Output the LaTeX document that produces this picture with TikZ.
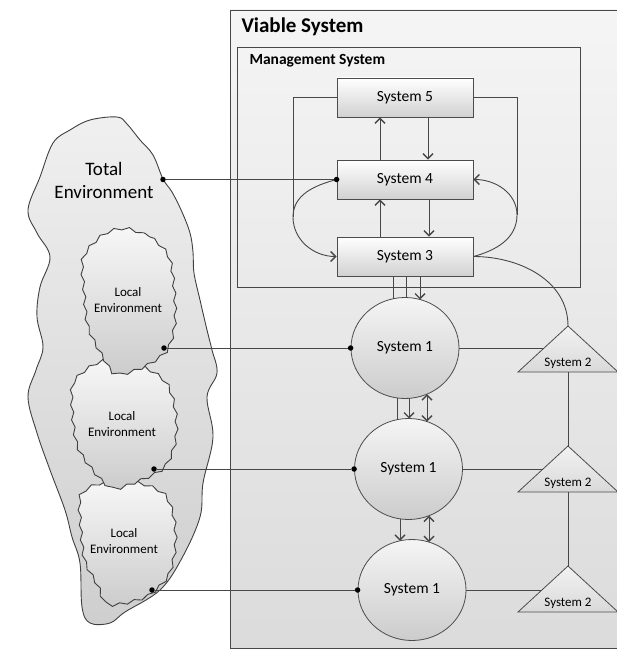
\documentclass[tikz,border=0pt]{standalone}
\usepackage{fontspec}
\setmainfont{Carlito}
\usetikzlibrary{arrows.meta,calc,shapes.geometric,decorations.pathmorphing}
\begin{document}
\begin{tikzpicture}[x=1pt,y=-1pt,
  ln/.style={draw=black!72, line width=0.9pt},
  tip/.tip={Straight Barb[length=5pt,width=10pt,line width=1.4pt]},
  arr/.style={ln, -tip},
  darr/.style={ln, tip-tip},
  dot/.style={circle, fill=black, inner sep=0pt, minimum size=5.5pt},
  sysbox/.style={draw=black!70, line width=0.8pt, top color=white, bottom color=black!18, minimum width=136pt, minimum height=39pt, inner sep=0pt, font=\fontsize{15.5}{18}\selectfont},
  sysone/.style={ellipse, draw=black!70, line width=0.8pt, top color=white!96!black, bottom color=black!20, minimum width=108pt, minimum height=101pt, inner sep=0pt, font=\fontsize{15.5}{18}\selectfont},
  tri/.style={draw=black!70, line width=0.8pt, top color=white!95!black, bottom color=black!15},
  twotxt/.style={font=\fontsize{13}{15}\selectfont, anchor=base},
  env/.style={draw=black!75, line width=0.9pt},
  wavy/.style={decorate, decoration={snake, amplitude=1.4pt, segment length=15pt}},
  envtxt/.style={align=center, font=\fontsize{13}{16}\selectfont},
]
\useasboundingbox (0,0) rectangle (617,650);
\fill[white] (0,0) rectangle (617,650);

% Total environment
\path[env, top color=black!6, bottom color=black!19] plot[smooth cycle, tension=0.6] coordinates {
(117,117) (127,124) (140,140) (153,155) (163,179) (172,192) (182,212) (190,233) (193,252) (194,273) (200,300) (207,330) (212,350) (217,373) (207,397) (213,437) (203,483) (200,517) (182,558) (160,590) (125,612) (110,623) (90,623) (82,607) (80,563) (72,537) (65,510) (50,470) (37,433) (28,397) (36,370) (43,347) (37,317) (40,287) (50,257) (37,233) (28,210) (40,177) (53,143) (70,130) (90,120)};

% Local environments
\path[env, wavy, top color=black!3, bottom color=black!20] plot[smooth cycle] coordinates {
(97,483) (133,482) (160,493) (170,515) (172,545) (165,575) (145,595) (120,603) (103,603) (95,585) (82,560) (78,525) (78,495)};
\path[env, wavy, top color=black!3, bottom color=black!20] plot[smooth cycle] coordinates {
(100,360) (140,366) (163,382) (172,410) (172,440) (160,467) (127,483) (108,487) (90,470) (74,445) (69,410) (71,380)};
\path[env, wavy, top color=black!3, bottom color=black!20] plot[smooth cycle] coordinates {
(123,226) (150,237) (166,255) (171,285) (172,320) (164,348) (140,365) (113,372) (100,355) (85,325) (81,290) (80,255) (100,232)};

\node[align=center, font=\fontsize{19}{23}\selectfont] (tetxt) at (104,180) {Total\\Environment};
\node[envtxt] (l1txt) at (128,300) {Local\\Environment};
\node[envtxt] (l2txt) at (122,424) {Local\\Environment};
\node[envtxt] (l3txt) at (124,541) {Local\\Environment};

% Viable system
\path[top color=black!4, bottom color=black!14] (230,10) rectangle (620,648);
\draw[ln] (620,10) -- (230,10) -- (230,648) -- (620,648);
\node[anchor=base west, font=\bfseries\fontsize{21}{24}\selectfont] (vs) at (238,33) {Viable System};
\draw[ln] (237,47) rectangle (580,287);
\node[anchor=base west, font=\bfseries\fontsize{15.5}{18}\selectfont] (ms) at (246,65) {Management System};

% coordinates for loops
\coordinate (lc) at (293,217);
\coordinate (rc) at (517,215);

% Systems
\node[sysbox] (s5) at (405,97.5) {System 5};
\node[sysbox] (s4) at (405,179.5) {System 4};
\node[sysbox] (s3) at (405,256.5) {System 3};
\node[sysone] (s1a) at (405,348) {System 1};
\node[sysone] (s1b) at (408.5,469) {System 1};
\node[sysone] (s1c) at (412,590) {System 1};

% triangles (System 2)
\coordinate (t1) at (568,326); \coordinate (t1b) at (568,372); \coordinate (t1l) at (544,348);
\coordinate (t2) at (568,446); \coordinate (t2b) at (568,492); \coordinate (t2l) at (543,469);
\coordinate (t3) at (568,566); \coordinate (t3b) at (568,612); \coordinate (t3l) at (542,590);
\draw[ln] (s1a.east) -- (t1l);
\draw[ln] (s1b.east) -- (t2l);
\draw[ln] (s1c.east) -- (t3l);
\draw[tri] (t1) -- (618,372) -- (518,372) -- cycle;
\draw[tri] (t2) -- (618,492) -- (518,492) -- cycle;
\draw[tri] (t3) -- (618,612) -- (518,612) -- cycle;
\node[twotxt] (s2a) at (568,366) {System 2};
\node[twotxt] (s2b) at (568,486) {System 2};
\node[twotxt] (s2c) at (568,606) {System 2};
\draw[ln] (t1b) -- (t2);
\draw[ln] (t2b) -- (t3);
\draw[ln] (s3.east) to[out=0,in=90] (t1);

% management arrows
\draw[arr] ($(s4.north)+(-25,0)$) -- ($(s5.south)+(-25,0)$);
\draw[arr] ($(s5.south)+(23,0)$) -- ($(s4.north)+(23,0)$);
\draw[arr] ($(s3.north)+(-25,0)$) -- ($(s4.south)+(-25,0)$);
\draw[arr] ($(s4.south)+(24,0)$) -- ($(s3.north)+(24,0)$);

% loops
\draw[ln] (s5.west) -| (lc);
\draw[ln] (s5.east) -| (rc);
\draw[arr] (s4.west) to[out=195,in=90] (lc) to[out=-90,in=180] (s3.west);
\draw[arr] (s3.east) to[out=15,in=-90] (rc) to[out=90,in=0] (s4.east);

% S3 -> S1
\draw[ln] ($(s3.south)+(-12,0)$) -- ($(s1a.center)+(-12,-49.2)$);
\draw[ln] ($(s3.south)+(1,0)$) -- ($(s1a.center)+(1,-50.5)$);
\draw[arr] ($(s3.south)+(15,0)$) -- ($(s1a.center)+(15,-48.5)$);

% S1a -> S1b
\draw[ln] ($(s1a.center)+(-8,49.9)$) -- ($(s1b.center)+(-11.5,-49.3)$);
\draw[arr] ($(s1a.center)+(4,50.4)$) -- ($(s1b.center)+(0.5,-50.5)$);
\draw[darr] ($(s1a.center)+(22,46.1)$) -- ($(s1b.center)+(18.5,-47.4)$);

% S1b -> S1c
\draw[arr] ($(s1b.center)+(-8.5,49.9)$) -- ($(s1c.center)+(-12,-49.2)$);
\draw[darr] ($(s1b.center)+(20.5,46.7)$) -- ($(s1c.center)+(17,-47.9)$);

% environment connections
\node[dot] (te) at (163,179.5) {};
\node[dot] (d4) at (s4.west) {};
\draw[ln] (te) -- (d4);
\node[dot] (le1) at (164,348) {};
\node[dot] (d1a) at (s1a.west) {};
\draw[ln] (le1) -- (d1a);
\node[dot] (le2) at (154,469) {};
\node[dot] (d1b) at (s1b.west) {};
\draw[ln] (le2) -- (d1b);
\node[dot] (le3) at (152,590) {};
\node[dot] (d1c) at (s1c.west) {};
\draw[ln] (le3) -- (d1c);
\end{tikzpicture}
\end{document}
